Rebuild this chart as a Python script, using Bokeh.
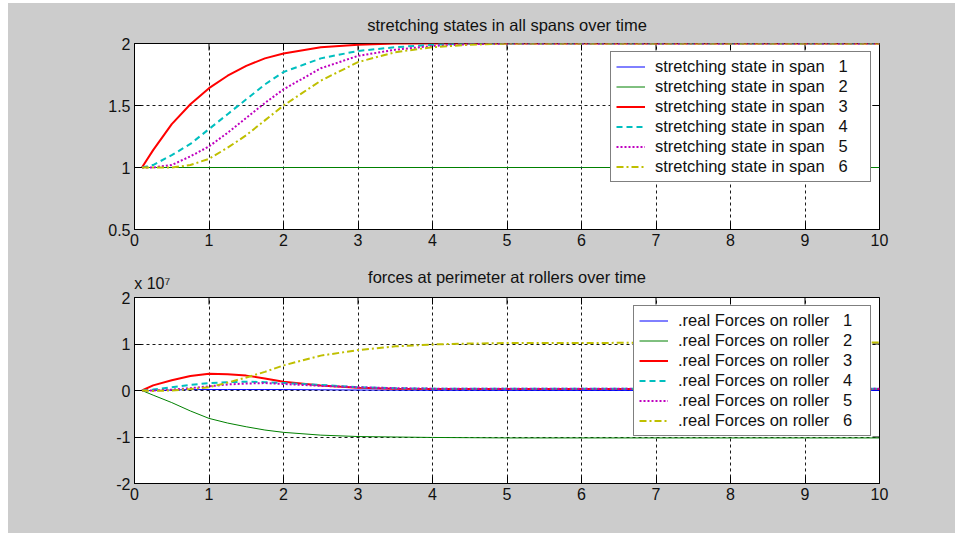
import math
from bokeh.plotting import figure
from bokeh.models import Legend, LegendItem, LinearAxis, Range1d, FixedTicker
from bokeh.layouts import column
from bokeh.embed import file_html
from bokeh.resources import INLINE

# ---------------- data ----------------
t = [0.1, 0.25, 0.5, 0.75, 1.0, 1.25, 1.5, 1.75, 2.0, 2.5, 3.0, 3.5, 4.0, 4.5, 5.0, 6.0, 7.0, 8.0, 9.0, 10.0]

# stretching states (top)
s1 = [1.0] * 20
s2 = [1.0] * 20
s3 = [1.0, 1.14, 1.35, 1.51, 1.64, 1.74, 1.82, 1.88, 1.92, 1.97, 1.99, 2.0, 2.0, 2.0, 2.0, 2.0, 2.0, 2.0, 2.0, 2.0]
s4 = [1.0, 1.02, 1.10, 1.19, 1.31, 1.43, 1.55, 1.67, 1.77, 1.88, 1.94, 1.97, 1.99, 2.0, 2.0, 2.0, 2.0, 2.0, 2.0, 2.0]
s5 = [1.0, 1.0, 1.02, 1.09, 1.17, 1.28, 1.40, 1.52, 1.63, 1.80, 1.90, 1.95, 1.98, 1.995, 2.0, 2.0, 2.0, 2.0, 2.0, 2.0]
s6 = [1.0, 1.0, 1.0, 1.02, 1.07, 1.16, 1.26, 1.38, 1.50, 1.70, 1.85, 1.93, 1.97, 1.99, 2.0, 2.0, 2.0, 2.0, 2.0, 2.0]

# forces (bottom), units of 1e7
f1 = [0.0, 0.0, 0.01, 0.02, 0.02, 0.02, 0.02, 0.02, 0.02, 0.015, 0.01, 0.008, 0.005, 0.004, 0.003, 0.002, 0.002, 0.002, 0.002, 0.002]
f2 = [0.0, -0.10, -0.26, -0.44, -0.60, -0.70, -0.78, -0.85, -0.90, -0.96, -0.99, -1.0, -1.01, -1.015, -1.02, -1.02, -1.02, -1.02, -1.02, -1.02]
f3 = [0.0, 0.11, 0.22, 0.31, 0.36, 0.35, 0.32, 0.26, 0.19, 0.11, 0.06, 0.04, 0.03, 0.03, 0.03, 0.03, 0.03, 0.03, 0.03, 0.03]
f4 = [0.0, 0.02, 0.07, 0.12, 0.16, 0.18, 0.19, 0.18, 0.16, 0.12, 0.07, 0.05, 0.04, 0.04, 0.04, 0.04, 0.04, 0.04, 0.04, 0.04]
f5 = [0.0, 0.0, 0.02, 0.05, 0.09, 0.13, 0.15, 0.16, 0.14, 0.10, 0.07, 0.05, 0.04, 0.04, 0.04, 0.04, 0.04, 0.04, 0.04, 0.04]
f6 = [0.0, -0.01, 0.0, 0.03, 0.07, 0.17, 0.28, 0.40, 0.54, 0.75, 0.87, 0.95, 0.99, 1.01, 1.02, 1.02, 1.03, 1.03, 1.03, 1.03]

x_ticks = [0, 1, 2, 3, 4, 5, 6, 7, 8, 9, 10]
top_yticks = [0.5, 1, 1.5, 2]
bot_yticks = [-2, -1, 0, 1, 2]
bot_ytick_text = {-2: "-2", -1: "-1"}

top_title = "stretching states in all spans over time"
bot_title = "forces at perimeter at rollers over time"
multiplier = "x 10\u2077"

NB = "\u00a0\u00a0\u00a0"
top_labels = ["stretching state in span" + NB + str(i) for i in range(1, 7)]
bot_labels = [".real Forces on roller" + NB + str(i) for i in range(1, 7)]

styles = [
    dict(color="#0000ff", width=1, dash="solid"),
    dict(color="#008000", width=1, dash="solid"),
    dict(color="#ff0000", width=2, dash="solid"),
    dict(color="#00bfbf", width=2, dash="6 4"),
    dict(color="#bf00bf", width=2, dash="2 2"),
    dict(color="#bfbf00", width=2, dash="7 3 2 3"),
]

FONT = "Liberation Sans"
GRAY = "#cccccc"
TXT = "#111111"


def label_axis(text, size, standoff, align="center"):
    ax = LinearAxis(ticker=FixedTicker(ticks=[]), axis_label=text,
                    axis_label_text_font=FONT, axis_label_text_font_size=size,
                    axis_label_text_font_style="normal", axis_label_text_color=TXT,
                    axis_label_standoff=standoff, axis_line_color=None,
                    major_tick_line_color=None, minor_tick_line_color=None,
                    major_label_text_font_size="0px")
    if align != "center":
        ax.axis_label_align = align
    return ax


def make_fig(height, yr, yticks, border_top, border_bottom):
    p = figure(width=947, height=height, output_backend="svg", toolbar_location=None,
               x_range=Range1d(0, 10), y_range=Range1d(*yr), title=None,
               min_border_left=126, min_border_right=76,
               min_border_top=border_top, min_border_bottom=border_bottom,
               border_fill_color=GRAY, background_fill_color="white",
               outline_line_color="black", outline_line_width=1)
    for ax in p.xaxis:
        ax.ticker = FixedTicker(ticks=x_ticks)
    for ax in p.yaxis:
        ax.ticker = FixedTicker(ticks=yticks)
    for ax in list(p.xaxis) + list(p.yaxis):
        ax.major_label_text_font = FONT
        ax.major_label_text_font_size = "16px"
        ax.major_label_text_color = TXT
        ax.major_tick_in = 7
        ax.major_tick_out = 0
        ax.minor_tick_line_color = None
        ax.axis_line_color = "black"
        ax.major_tick_line_color = "black"
        ax.major_label_standoff = 4
    p.grid.grid_line_color = "black"
    p.grid.grid_line_dash = "3 3"
    p.grid.grid_line_width = 1
    p.grid.grid_line_alpha = 0.9
    # mirrored inward ticks on right and top edges (outer half clipped by the frame)
    p.scatter([x_ticks[-1]] * len(yticks), yticks, marker="dash", size=14,
              line_color="black", line_width=1)
    p.scatter(x_ticks, [yr[1]] * len(x_ticks), marker="dash", size=14, angle=math.pi / 2,
              line_color="black", line_width=1)
    return p


p1 = make_fig(255, (0.5, 2), top_yticks, 40, 29)
p2 = make_fig(275, (-2, 2), bot_yticks, 39, 50)
p2.yaxis.major_label_overrides = bot_ytick_text

# titles drawn as labels of tick-less top axes
p1.add_layout(label_axis(top_title, "16.5px", 10), "above")
p2.add_layout(label_axis("\u00a0" * 8 + multiplier, "16px", 6, "start"), "above")
p2.add_layout(label_axis(bot_title, "16.5px", -14), "above")


def add_lines(p, series, labels, label_width):
    items = []
    for ys, lab, st in zip(series, labels, styles):
        r = p.line(t, ys, line_color=st["color"], line_width=st["width"], line_dash=st["dash"])
        items.append(LegendItem(label=lab, renderers=[r]))
    leg = Legend(items=items, location="top_right", margin=8,
                 border_line_color="black", border_line_width=1,
                 background_fill_color="white", background_fill_alpha=1.0,
                 label_text_font=FONT, label_text_font_size="16.5px", label_text_color=TXT,
                 glyph_width=29, glyph_height=19, label_height=19, label_width=label_width,
                 label_standoff=10, spacing=1, padding=5)
    p.add_layout(leg, "center")


add_lines(p1, [s1, s2, s3, s4, s5, s6], top_labels, 210)
add_lines(p2, [f1, f2, f3, f4, f5, f6], bot_labels, 187)

layout = column(p1, p2, margin=(3, 0, 0, 8), spacing=0, styles={"background-color": GRAY})

open("out.html", "w").write(file_html(layout, INLINE))
